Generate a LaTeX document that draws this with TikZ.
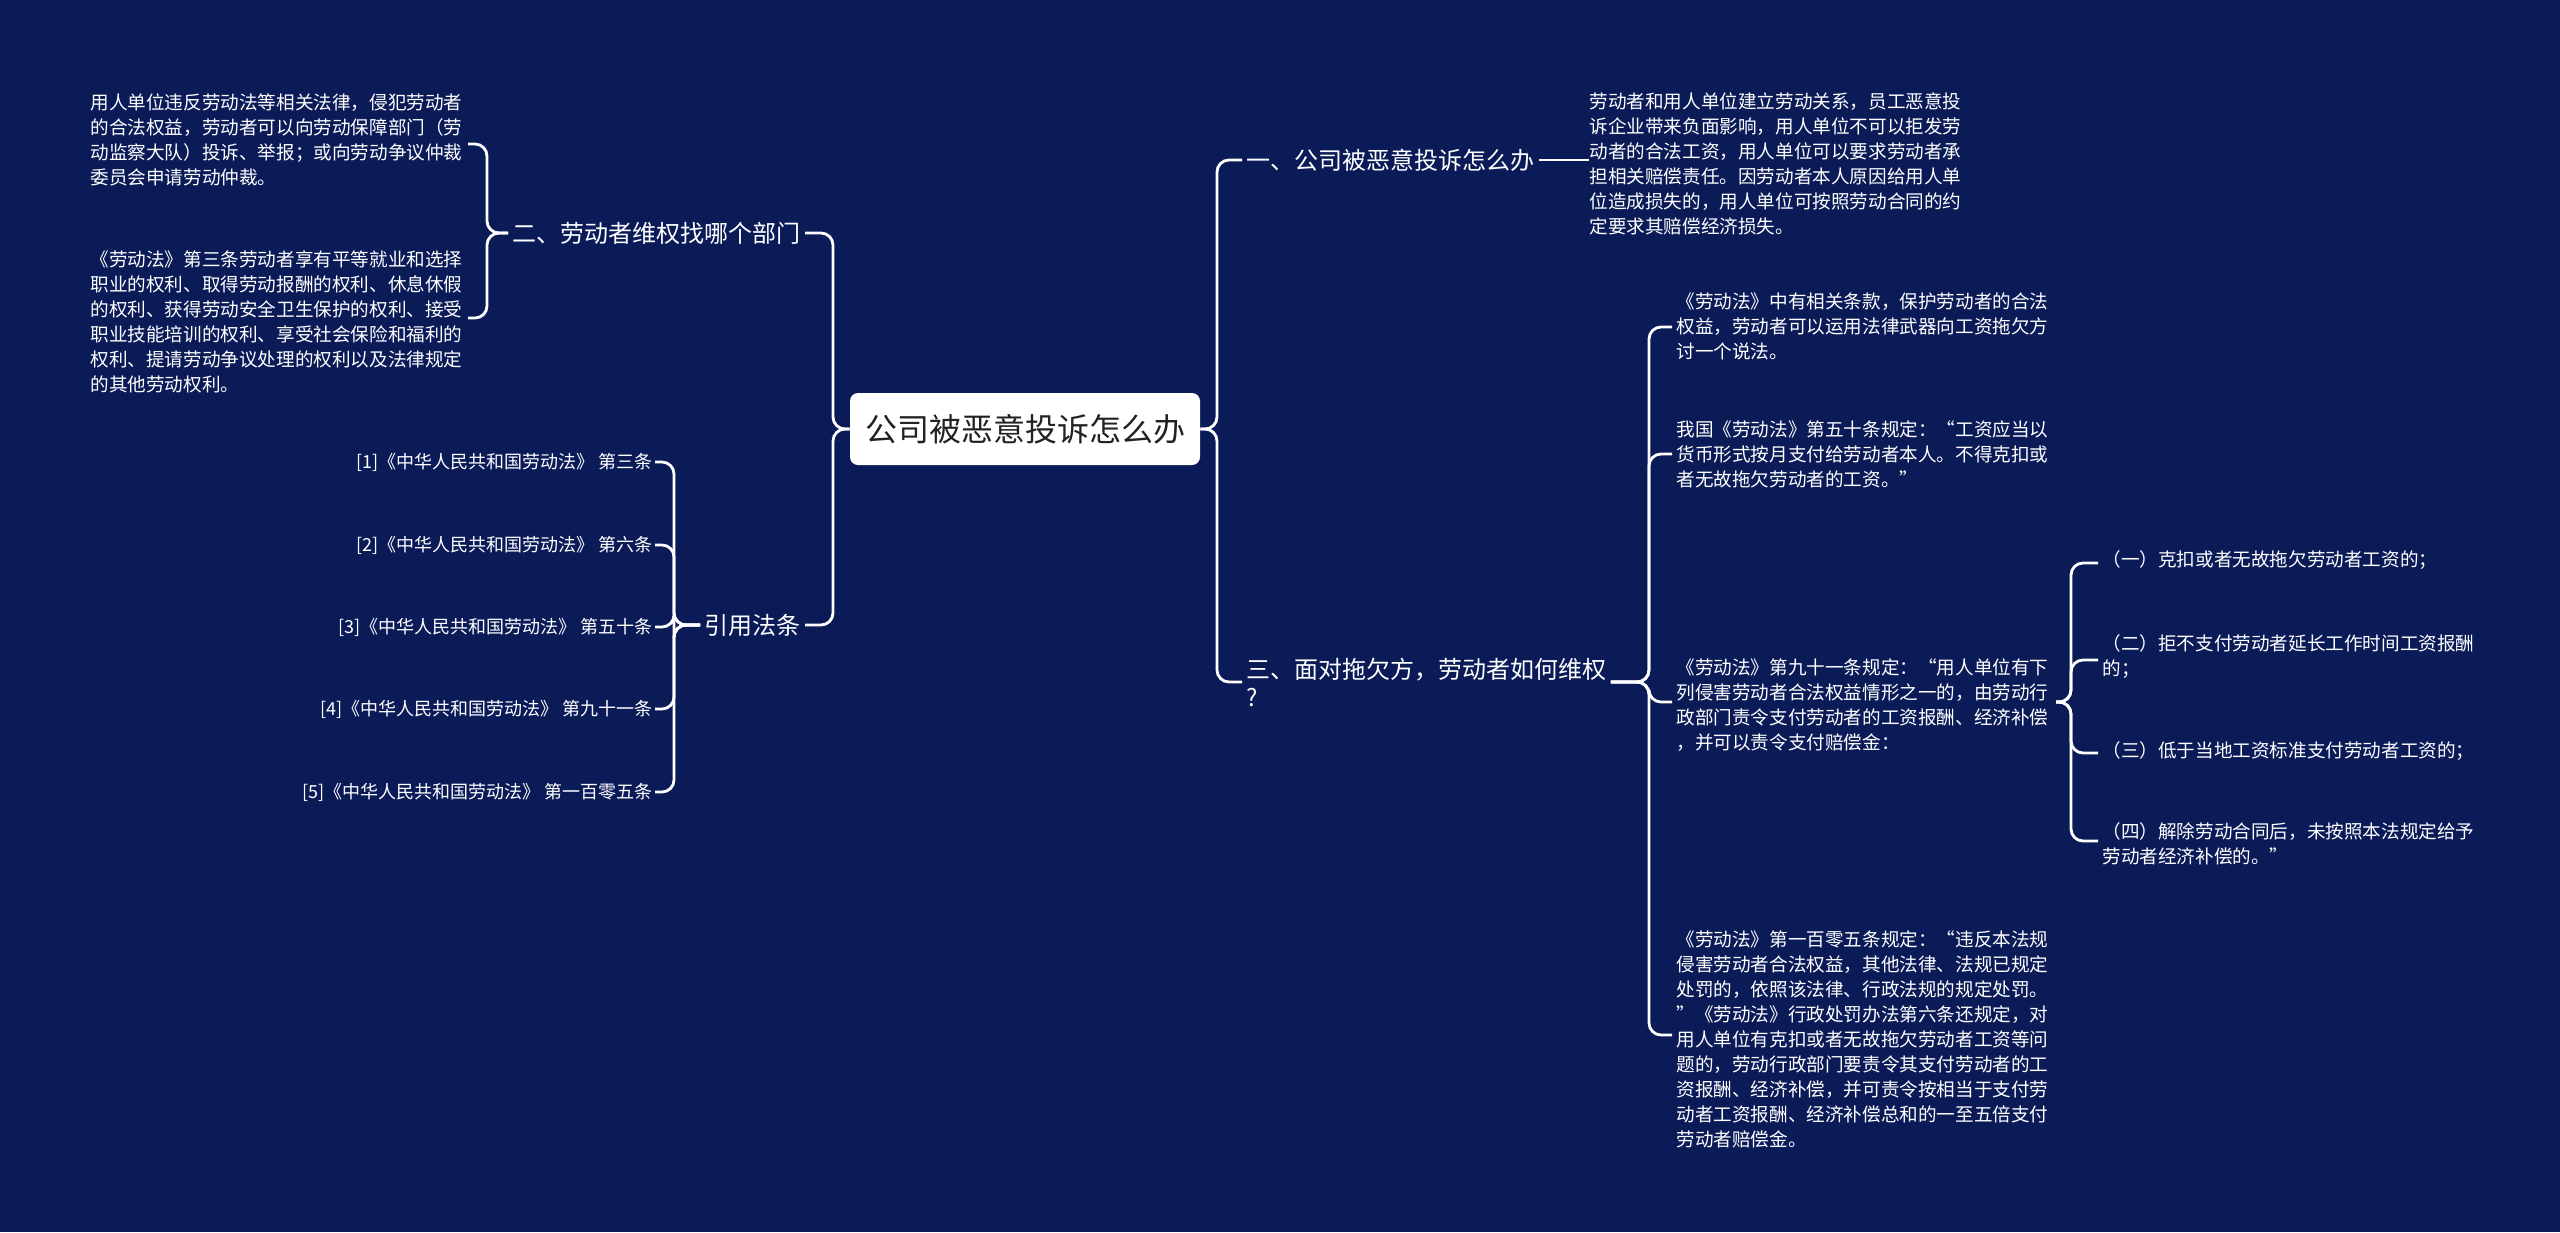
\documentclass[tikz,border=0pt]{standalone}
\usepackage{fontspec}
\setmainfont{Noto Sans CJK SC}
\definecolor{bg}{HTML}{0B1B58}
\definecolor{rootfg}{HTML}{222222}
\begin{document}
\begin{tikzpicture}[x=0.5pt,y=-0.5pt,
  conn/.style={draw=white,line width=1.4pt,rounded corners=6pt},
  leaf/.style={text=white,font=\fontsize{9.3}{12.5}\selectfont,align=left,inner sep=0pt,anchor=north west},
  lab/.style={text=white,font=\fontsize{12}{14}\selectfont,align=left,inner sep=2pt},
  refn/.style={text=white,font=\fontsize{9}{11}\selectfont,inner sep=1pt,anchor=east}]
\fill[bg] (0,0) rectangle (2560,1232);
\useasboundingbox (0,0) rectangle (2560,1232);
% root
\node[fill=white,rounded corners=4pt,minimum width=175pt,minimum height=36pt,text=rootfg,font=\fontsize{16}{18}\selectfont] (root) at (1025,429) {公司被恶意投诉怎么办};
% bracket x coordinates
\coordinate (bR) at (1217,0);
\coordinate (bL) at (833,0);
\coordinate (bS) at (1649,0);
\coordinate (bG) at (2071,0);
\coordinate (bA) at (487,0);
\coordinate (bY) at (674,0);
% right level 1
\node[lab,anchor=west] (n1) at (1242,160) {一、公司被恶意投诉怎么办};
\node[lab,anchor=west] (n3) at (1242,682) {三、面对拖欠方，劳动者如何维权\\?};
\draw[conn] (root.east) -- (root.east -| bR) |- (n1.west);
\draw[conn] (root.east) -- (root.east -| bR) |- (n3.west);
% n1 leaf
\node[leaf] (r1) at (1589,92) {劳动者和用人单位建立劳动关系，员工恶意投\\诉企业带来负面影响，用人单位不可以拒发劳\\动者的合法工资，用人单位可以要求劳动者承\\担相关赔偿责任。因劳动者本人原因给用人单\\位造成损失的，用人单位可按照劳动合同的约\\定要求其赔偿经济损失。};
\draw[conn] (n1.east) -- (r1.west |- n1.east);
% n3 children
\node[leaf] (c1) at (1676,292) {《劳动法》中有相关条款，保护劳动者的合法\\权益，劳动者可以运用法律武器向工资拖欠方\\讨一个说法。};
\node[leaf] (c2) at (1676,420) {我国《劳动法》第五十条规定：“工资应当以\\货币形式按月支付给劳动者本人。不得克扣或\\者无故拖欠劳动者的工资。”};
\node[leaf] (c3) at (1676,658) {《劳动法》第九十一条规定：“用人单位有下\\列侵害劳动者合法权益情形之一的，由劳动行\\政部门责令支付劳动者的工资报酬、经济补偿\\，并可以责令支付赔偿金：};
\node[leaf] (c4) at (1676,930) {《劳动法》第一百零五条规定：“违反本法规\\侵害劳动者合法权益，其他法律、法规已规定\\处罚的，依照该法律、行政法规的规定处罚。\\”《劳动法》行政处罚办法第六条还规定，对\\用人单位有克扣或者无故拖欠劳动者工资等问\\题的，劳动行政部门要责令其支付劳动者的工\\资报酬、经济补偿，并可责令按相当于支付劳\\动者工资报酬、经济补偿总和的一至五倍支付\\劳动者赔偿金。};
\coordinate (tc1) at (1672,327);
\coordinate (tc2) at (1672,454);
\coordinate (tc3) at (1672,702);
\coordinate (tc4) at (1672,1035);
\foreach \t in {tc1,tc2,tc3,tc4}{\draw[conn] (n3.east) -- (n3.east -| bS) |- (\t);}
% c3 children
\node[leaf] (g1) at (2102,550) {（一）克扣或者无故拖欠劳动者工资的；};
\node[leaf] (g2) at (2102,634) {（二）拒不支付劳动者延长工作时间工资报酬\\的；};
\node[leaf] (g3) at (2102,741) {（三）低于当地工资标准支付劳动者工资的；};
\node[leaf] (g4) at (2102,822) {（四）解除劳动合同后，未按照本法规定给予\\劳动者经济补偿的。”};
\coordinate (tc3r) at (2056,702);
\coordinate (tg1) at (2098,563);
\coordinate (tg2) at (2098,660);
\coordinate (tg3) at (2098,753);
\coordinate (tg4) at (2098,841);
\foreach \t in {tg1,tg2,tg3,tg4}{\draw[conn] (tc3r) -- (tc3r -| bG) |- (\t);}
% left level 1
\node[lab,anchor=east] (n2) at (805,233) {二、劳动者维权找哪个部门};
\node[lab,anchor=east] (ny) at (805,625) {引用法条};
\draw[conn] (root.west) -- (root.west -| bL) |- (n2.east);
\draw[conn] (root.west) -- (root.west -| bL) |- (ny.east);
% n2 leaves
\node[leaf] (b1) at (90,93) {用人单位违反劳动法等相关法律，侵犯劳动者\\的合法权益，劳动者可以向劳动保障部门（劳\\动监察大队）投诉、举报；或向劳动争议仲裁\\委员会申请劳动仲裁。};
\node[leaf] (b2) at (90,250) {《劳动法》第三条劳动者享有平等就业和选择\\职业的权利、取得劳动报酬的权利、休息休假\\的权利、获得劳动安全卫生保护的权利、接受\\职业技能培训的权利、享受社会保险和福利的\\权利、提请劳动争议处理的权利以及法律规定\\的其他劳动权利。};
\coordinate (tb1) at (468,144);
\coordinate (tb2) at (468,318);
\foreach \t in {tb1,tb2}{\draw[conn] (n2.west) -- (n2.west -| bA) |- (\t);}
% refs
\node[refn] (y1) at (655,462) {[1]《中华人民共和国劳动法》 第三条};
\node[refn] (y2) at (655,545) {[2]《中华人民共和国劳动法》 第六条};
\node[refn] (y3) at (655,627) {[3]《中华人民共和国劳动法》 第五十条};
\node[refn] (y4) at (655,709) {[4]《中华人民共和国劳动法》 第九十一条};
\node[refn] (y5) at (655,792) {[5]《中华人民共和国劳动法》 第一百零五条};
\foreach \t in {y1,y2,y3,y4,y5}{\draw[conn] (ny.west) -- (ny.west -| bY) |- (\t.east);}
\end{tikzpicture}
\end{document}
